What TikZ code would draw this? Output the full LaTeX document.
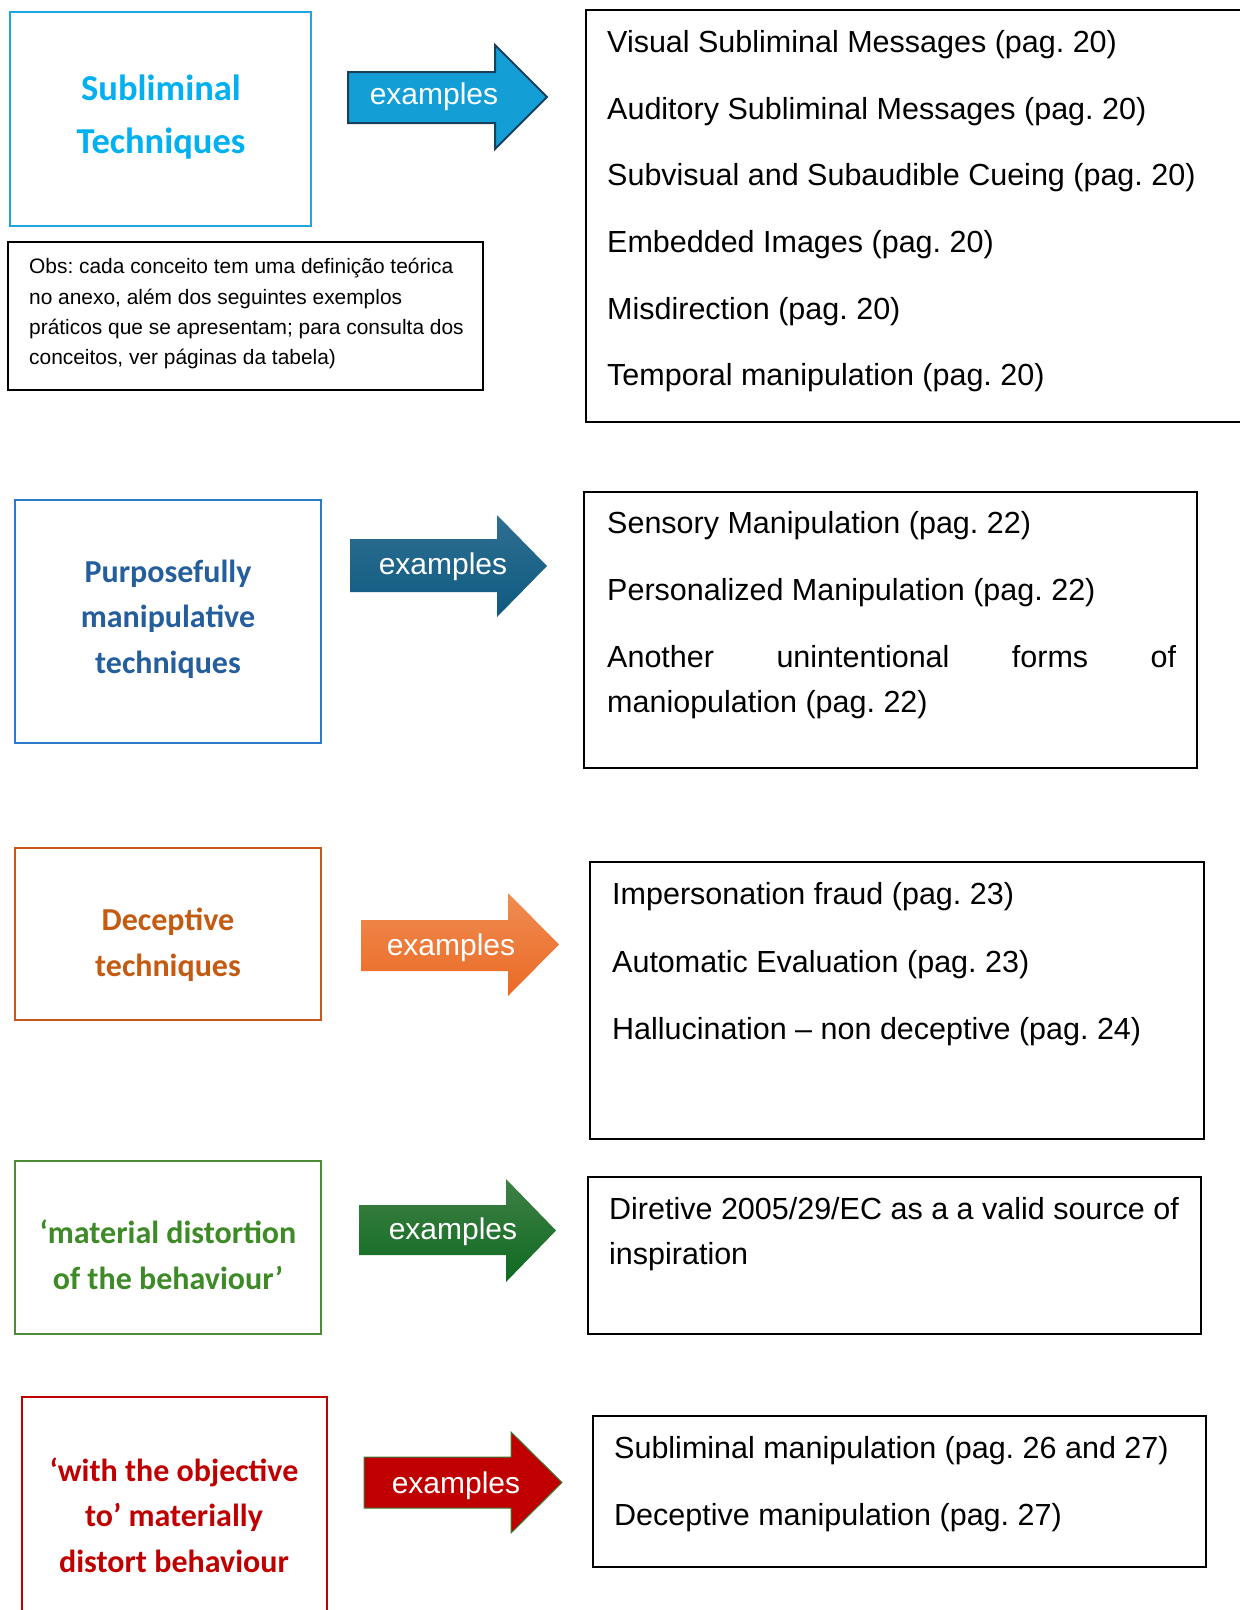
\documentclass[tikz,border=0pt]{standalone}
\usepackage{fontspec}
\setmainfont{Liberation Sans}
\newfontfamily\headfont{Carlito}
\definecolor{cyT}{HTML}{00B0F0}
\definecolor{cyB}{HTML}{1DA6DF}
\definecolor{blT}{HTML}{245E9C}
\definecolor{blB}{HTML}{2A7BC8}
\definecolor{orT}{HTML}{C55A11}
\definecolor{orB}{HTML}{C8581A}
\definecolor{grT}{HTML}{3D8A27}
\definecolor{grB}{HTML}{4F8A38}
\definecolor{rdT}{HTML}{C00000}
\definecolor{aOne}{HTML}{139FD6}
\definecolor{aOneL}{HTML}{17405E}
\definecolor{aTwoT}{HTML}{2F6F92}
\definecolor{aTwoB}{HTML}{0E5A80}
\definecolor{aThrT}{HTML}{F08C52}
\definecolor{aThrB}{HTML}{EA6A25}
\definecolor{aFouT}{HTML}{3F8046}
\definecolor{aFouB}{HTML}{0E6A1F}
\definecolor{aFivL}{HTML}{3B7B35}
\newcommand\exarrow[8][]{%
  \path[#1] (#2,#3) -- (#5,#3) -- (#5,#6) -- (#8,{(#6+#7)/2}) -- (#5,#7) -- (#5,#4) -- (#2,#4) -- cycle;}
\begin{document}
\frenchspacing
\begin{tikzpicture}[x=1pt,y=-1pt,
  catbox/.style={draw=#1, line width=2.4pt, inner sep=0pt},
  listbox/.style={draw=black, line width=2.4pt, inner sep=0pt},
  head/.style={font=\headfont\bfseries\fontsize{32}{45.5}\selectfont, align=center, text=#1, inner sep=0pt},
  item/.style={anchor=base west, inner sep=0pt, font=\fontsize{30.5}{36}\selectfont},
  obsline/.style={anchor=base west, inner sep=0pt, font=\fontsize{20.9}{24}\selectfont},
  extext/.style={text=white, font=\fontsize{30}{36}\selectfont, inner sep=0pt}]
\clip (0,0) rectangle (1240,1610);
\fill[white] (0,0) rectangle (1240,1610);

% ---------- row 1 ----------
\node[catbox=cyB, minimum width=301pt, minimum height=214pt] (c1) at (160.5,119) {};
\node[head=cyT, font=\headfont\bfseries\fontsize{36.5}{53}\selectfont] (h1) at (161,117) {Subliminal\\Techniques};
\exarrow[fill=aOne, draw=aOneL, line width=2pt]{348}{72}{123}{495}{45}{149}{547}
\node[extext] (e1) at (434,97) {examples};
\node[listbox, minimum width=664pt, minimum height=412pt] (r1) at (918,216) {};
\node[item] (r1a) at (607,52) {Visual Subliminal Messages (pag. 20)};
\node[item] (r1b) at (607,119) {Auditory Subliminal Messages (pag. 20)};
\node[item] (r1c) at (607,185) {Subvisual and Subaudible Cueing (pag. 20)};
\node[item] (r1d) at (607,252) {Embedded Images (pag. 20)};
\node[item] (r1e) at (607,319) {Misdirection (pag. 20)};
\node[item] (r1f) at (607,385) {Temporal manipulation (pag. 20)};

\node[draw=black, line width=2pt, inner sep=0pt, minimum width=475pt, minimum height=148pt] (obs) at (245.5,316) {};
\node[obsline] (o1) at (29,273) {Obs: cada conceito tem uma definição teórica};
\node[obsline] (o2) at (29,304) {no anexo, além dos seguintes exemplos};
\node[obsline] (o3) at (29,334) {práticos que se apresentam; para consulta dos};
\node[obsline] (o4) at (29,364) {conceitos, ver páginas da tabela)};

% ---------- row 2 ----------
\node[catbox=blB, minimum width=306pt, minimum height=243pt] (c2) at (168,621.5) {};
\node[head=blT] (h2) at (168,619) {Purposefully\\manipulative\\techniques};
\exarrow[top color=aTwoT, bottom color=aTwoB]{350}{539}{592}{497}{515}{617}{547}
\node[extext] (e2) at (443,567) {examples};
\node[listbox, minimum width=613pt, minimum height=276pt] (r2) at (890.5,630) {};
\node[item] (r2a) at (607,533) {Sensory Manipulation (pag. 22)};
\node[item] (r2b) at (607,600) {Personalized Manipulation (pag. 22)};
\node[item] (r2c) at (607,667) {\makebox[569pt][s]{Another unintentional forms of}};
\node[item] (r2d) at (607,712) {maniopulation (pag. 22)};

% ---------- row 3 ----------
\node[catbox=orB, minimum width=306pt, minimum height=172pt] (c3) at (168,934) {};
\node[head=orT] (h3) at (168,945) {Deceptive\\techniques};
\exarrow[top color=aThrT, bottom color=aThrB]{361}{920}{971}{508}{893}{996}{559}
\node[extext] (e3) at (451,948) {examples};
\node[listbox, minimum width=614pt, minimum height=277pt] (r3) at (897,1000.5) {};
\node[item] (r3a) at (612,904) {Impersonation fraud (pag. 23)};
\node[item] (r3b) at (612,972) {Automatic Evaluation (pag. 23)};
\node[item] (r3c) at (612,1039) {Hallucination – non deceptive (pag. 24)};

% ---------- row 4 ----------
\node[catbox=grB, minimum width=306pt, minimum height=173pt] (c4) at (168,1247.5) {};
\node[head=grT] (h4) at (168,1255) {‘material distortion\\of the behaviour’};
\exarrow[top color=aFouT, bottom color=aFouB]{359}{1205}{1255}{506}{1179}{1282}{556}
\node[extext] (e4) at (453,1232) {examples};
\node[listbox, minimum width=613pt, minimum height=157pt] (r4) at (894.5,1255.5) {};
\node[item] (r4a) at (609,1219) {Diretive 2005/29/EC as a a valid source of};
\node[item] (r4b) at (609,1264) {inspiration};

% ---------- row 5 ----------
\node[catbox=rdT, minimum width=305pt, minimum height=223pt] (c5) at (174.5,1508.5) {};
\node[head=rdT] (h5) at (174,1515) {‘with the objective\\to’ materially\\distort behaviour};
\exarrow[fill=rdT, draw=aFivL, line width=1pt]{364}{1457}{1508}{511}{1432}{1533}{562}
\node[extext] (e5) at (456,1486) {examples};
\node[listbox, minimum width=613pt, minimum height=151pt] (r5) at (899.5,1491.5) {};
\node[item] (r5a) at (614,1458) {Subliminal manipulation (pag. 26 and 27)};
\node[item] (r5b) at (614,1525) {Deceptive manipulation (pag. 27)};
\end{tikzpicture}
\end{document}
